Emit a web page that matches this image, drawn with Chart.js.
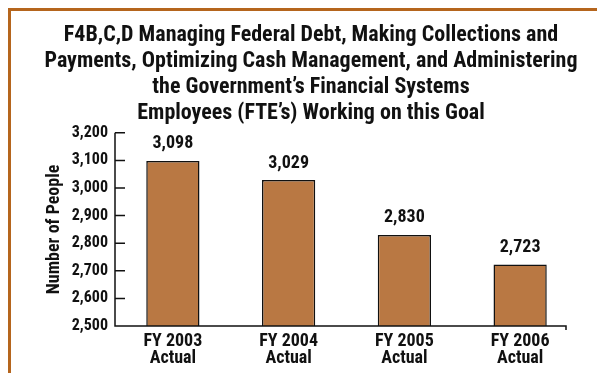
<!DOCTYPE html>
<html>
<head>
<meta charset="utf-8">
<script src="https://cdn.jsdelivr.net/npm/chart.js@4/dist/chart.umd.min.js"></script>
<style>
  html, body { margin: 0; padding: 0; background: #fff; }
  #wrap { position: relative; width: 597px; height: 373px; }
  #frame {
    position: absolute; left: 8px; top: 8px; right: 0; bottom: 0;
    border-top: 3px solid #b5651d; border-left: 3px solid #b5651d;
    pointer-events: none;
  }
  canvas { position: absolute; left: 0; top: 0; }
</style>
</head>
<body>
<div id="wrap">
  <canvas id="myChart" width="597" height="373"></canvas>
  <div id="frame"></div>
</div>
<script>
const titleLines = [
  "F4B,C,D Managing Federal Debt, Making Collections and",
  "Payments, Optimizing Cash Management, and Administering",
  "the Government\u2019s Financial Systems",
  "Employees (FTE\u2019s) Working on this Goal"
];
const categories = [
  ["FY 2003", "Actual"],
  ["FY 2004", "Actual"],
  ["FY 2005", "Actual"],
  ["FY 2006", "Actual"]
];
const employees = [3098, 3029, 2830, 2723];
const yMin = 2500;
const yMax = 3200;
const yStep = 100;

const font = "'Liberation Sans Narrow', 'Roboto Condensed', 'DejaVu Sans Condensed', sans-serif";

// value labels + hand-drawn axes (ticks point inward like the original)
const extras = {
  id: "extras",
  afterDatasetsDraw(chart) {
    const ctx = chart.ctx;
    const y = chart.scales.y;
    const meta = chart.getDatasetMeta(0);

    ctx.save();
    ctx.fillStyle = "#111";
    ctx.font = "bold 18px " + font;
    ctx.textAlign = "center";
    ctx.textBaseline = "middle";
    meta.data.forEach((bar, i) => {
      ctx.fillText(employees[i].toLocaleString("en-US"), bar.x, bar.y - 17);
    });

    const left = chart.chartArea.left;
    const bottom = y.getPixelForValue(yMin);
    const top = y.getPixelForValue(yMax);
    const axisEnd = chart.chartArea.right - 12;

    ctx.strokeStyle = "#111";
    ctx.lineWidth = 1.5;
    ctx.beginPath();
    ctx.moveTo(left, top);
    ctx.lineTo(left, bottom);
    ctx.lineTo(axisEnd, bottom);
    ctx.lineTo(axisEnd, bottom + 4);
    for (let v = yMin; v <= yMax; v += yStep) {
      const py = y.getPixelForValue(v);
      ctx.moveTo(left, py);
      ctx.lineTo(left + 10, py);
    }
    ctx.stroke();
    ctx.restore();
  }
};

const ctx = document.getElementById("myChart");

new Chart(ctx, {
  type: "bar",
  data: {
    labels: categories,
    datasets: [
      {
        label: "FTEs",
        data: employees,
        backgroundColor: "#b97843",
        borderColor: "#111",
        borderWidth: 1.5,
        barPercentage: 0.46,
        categoryPercentage: 1
      }
    ]
  },
  options: {
    responsive: false,
    animation: false,
    layout: { padding: { top: 10, left: 44, right: 19, bottom: 0 } },
    plugins: {
      legend: { display: false },
      tooltip: { enabled: false },
      title: {
        display: true,
        text: titleLines,
        color: "#111",
        font: { family: font, size: 22, weight: "bold", lineHeight: 1.18 },
        padding: { top: 13, bottom: 6 }
      }
    },
    scales: {
      x: {
        afterFit(scale) { scale.height = 47; },
        grid: { display: false, drawTicks: false },
        border: { display: false },
        ticks: {
          color: "#111",
          padding: 7,
          maxRotation: 0,
          font: { family: font, size: 18, weight: "bold", lineHeight: 0.95 }
        }
      },
      y: {
        min: yMin,
        max: yMax,
        afterFit(scale) { scale.width = 71; },
        grid: { display: false, drawTicks: false },
        border: { display: false },
        ticks: {
          stepSize: yStep,
          color: "#111",
          padding: 7,
          font: { family: font, size: 16, weight: "bold" },
          callback: (v) => v.toLocaleString("en-US")
        },
        title: {
          display: true,
          text: "Number of People",
          color: "#111",
          padding: 0,
          font: { family: font, size: 18, weight: "bold" }
        }
      }
    }
  },
  plugins: [extras]
});
</script>
</body>
</html>
